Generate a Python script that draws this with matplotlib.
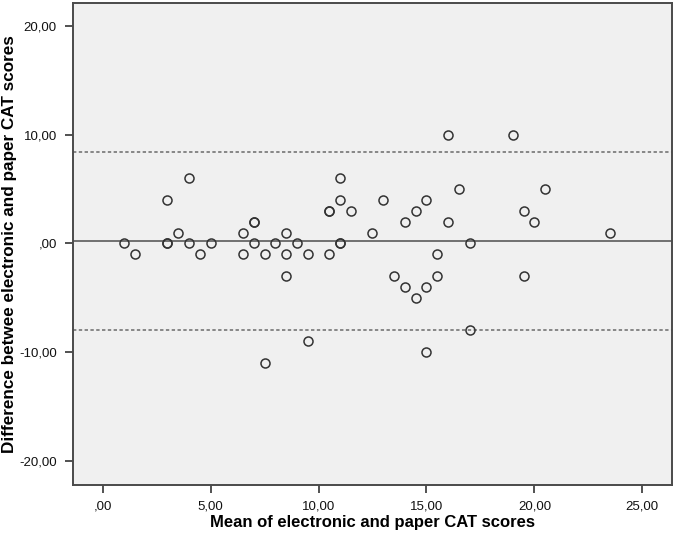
import matplotlib
matplotlib.use("Agg")
import matplotlib.pyplot as plt
from matplotlib.ticker import FuncFormatter

# mean of electronic and paper CAT scores (x) and their difference (y)
mean_scores = [1, 1.5, 3, 3, 3, 3.5, 4, 4, 4.5, 5,
               6.5, 6.5, 7, 7, 7, 7.5, 7.5, 8, 8.5, 8.5,
               8.5, 9, 9.5, 9.5, 10.5, 10.5, 10.5, 11, 11, 11,
               11, 11.5, 12.5, 13, 13.5, 14, 14, 14.5, 14.5, 15,
               15, 15, 15.5, 15.5, 16, 16, 16.5, 17, 17, 19,
               19.5, 19.5, 20, 20.5, 23.5]
differences = [0, -1, 4, 0, 0, 1, 6, 0, -1, 0,
               1, -1, 2, 2, 0, -1, -11, 0, 1, -1,
               -3, 0, -1, -9, 3, 3, -1, 6, 4, 0,
               0, 3, 1, 4, -3, 2, -4, 3, -5, 4,
               -4, -10, -1, -3, 10, 2, 5, 0, -8, 10,
               3, -3, 2, 5, 1]

mean_diff = 0.25
limits = [8.45, -8.0]

x_ticks = [0, 5, 10, 15, 20, 25]
y_ticks = [-20, -10, 0, 10, 20]

plt.rcParams['font.family'] = ['Liberation Sans', 'DejaVu Sans']

def coma(v, pos):
    s = "%.2f" % v
    s = s.replace('.', ',')
    if s.startswith('0,'):
        s = s[1:]
    if s.startswith('-0,'):
        s = s[2:]
    return s

fig = plt.figure(figsize=(6.75, 5.37), dpi=100)
ax = fig.add_axes([0.1077, 0.0974, 0.8883, 0.8976])
ax.set_facecolor('#f0f0f0')

ax.axhline(mean_diff, color='#5a5a5a', lw=1.2, zorder=1)
for lim in limits:
    ax.axhline(lim, color='#6a6a6a', lw=1.1, linestyle=(0, (2.2, 1.6)), zorder=1)

ax.plot(mean_scores, differences, 'o', markerfacecolor='none',
        markeredgecolor='#333333', markersize=6.5, markeredgewidth=1.1, zorder=3)

ax.set_xlim(-1.39, 26.39)
ax.set_ylim(-22.2, 22.15)
ax.set_xticks(x_ticks)
ax.set_yticks(y_ticks)
ax.xaxis.set_major_formatter(FuncFormatter(coma))
ax.yaxis.set_major_formatter(FuncFormatter(coma))

for sp in ax.spines.values():
    sp.set_color('#4a4a4a')
    sp.set_linewidth(1.4)

ax.tick_params(direction='out', length=5.5, width=1.2, color='#333333',
               labelsize=9.5, labelcolor='#111111', pad=6)

ax.set_xlabel('Mean of electronic and paper CAT scores', fontsize=12,
              fontweight='bold', labelpad=2)
ax.set_ylabel('Difference betwee electronic and paper CAT scores', fontsize=12.3,
              fontweight='bold')
ax.yaxis.set_label_coords(-0.093, 0.5)

fig.savefig('out.png', dpi=100)
